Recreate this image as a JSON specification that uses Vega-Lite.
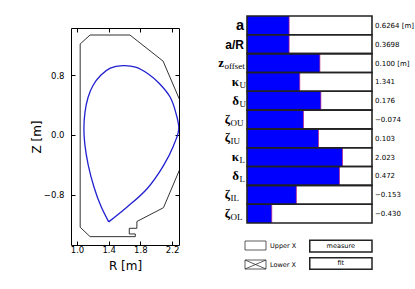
{
  "$schema": "https://vega.github.io/schema/vega-lite/v6.json",
  "autosize": {"type": "pad"},
  "padding": {"left": 29, "top": 10, "right": 2, "bottom": 2},
  "background": "#ffffff",
  "config": {"view": {"stroke": null}, "font": "DejaVu Sans"},
  "datasets": {
    "wall": [
      {"i": 0, "R": 1.040, "Z": 1.220}, {"i": 1, "R": 1.165, "Z": 1.340}, {"i": 2, "R": 1.668, "Z": 1.340},
      {"i": 3, "R": 2.087, "Z": 0.990}, {"i": 4, "R": 2.340, "Z": 0.362}, {"i": 5, "R": 2.340, "Z": -0.354},
      {"i": 6, "R": 2.092, "Z": -0.975}, {"i": 7, "R": 1.756, "Z": -1.160}, {"i": 8, "R": 1.756, "Z": -1.251},
      {"i": 9, "R": 1.660, "Z": -1.251}, {"i": 10, "R": 1.660, "Z": -1.327}, {"i": 11, "R": 1.736, "Z": -1.327},
      {"i": 12, "R": 1.736, "Z": -1.363}, {"i": 13, "R": 1.165, "Z": -1.363}, {"i": 14, "R": 1.040, "Z": -1.237},
      {"i": 15, "R": 1.040, "Z": 1.220}
    ],
    "plasma": [
      {"i": 0, "R": 1.400, "Z": -1.165}, {"i": 1, "R": 1.300, "Z": -0.950}, {"i": 2, "R": 1.215, "Z": -0.700},
      {"i": 3, "R": 1.143, "Z": -0.410}, {"i": 4, "R": 1.098, "Z": -0.120}, {"i": 5, "R": 1.087, "Z": 0.080},
      {"i": 6, "R": 1.100, "Z": 0.300}, {"i": 7, "R": 1.140, "Z": 0.505}, {"i": 8, "R": 1.200, "Z": 0.660},
      {"i": 9, "R": 1.300, "Z": 0.800}, {"i": 10, "R": 1.420, "Z": 0.895}, {"i": 11, "R": 1.578, "Z": 0.930},
      {"i": 12, "R": 1.740, "Z": 0.910}, {"i": 13, "R": 1.905, "Z": 0.815}, {"i": 14, "R": 2.040, "Z": 0.690},
      {"i": 15, "R": 2.177, "Z": 0.505}, {"i": 16, "R": 2.250, "Z": 0.290}, {"i": 17, "R": 2.285, "Z": 0.080},
      {"i": 18, "R": 2.219, "Z": -0.143}, {"i": 19, "R": 2.092, "Z": -0.410}, {"i": 20, "R": 1.882, "Z": -0.724},
      {"i": 21, "R": 1.629, "Z": -0.969}, {"i": 22, "R": 1.400, "Z": -1.165}
    ],
    "params": [
      {"p": "a", "m": "a", "s": "", "f": 0.337, "v": "0.6264 [m]"},
      {"p": "a/R", "m": "a/R", "s": "", "f": 0.337, "v": "0.3698"},
      {"p": "zoff", "m": "z", "s": "offset", "f": 0.583, "v": "0.100 [m]"},
      {"p": "kU", "m": "κ", "s": "U", "f": 0.422, "v": "1.341"},
      {"p": "dU", "m": "δ", "s": "U", "f": 0.591, "v": "0.176"},
      {"p": "zOU", "m": "ζ", "s": "OU", "f": 0.452, "v": "−0.074"},
      {"p": "zIU", "m": "ζ", "s": "IU", "f": 0.572, "v": "0.103"},
      {"p": "kL", "m": "κ", "s": "L", "f": 0.764, "v": "2.023"},
      {"p": "dL", "m": "δ", "s": "L", "f": 0.740, "v": "0.472"},
      {"p": "zIL", "m": "ζ", "s": "IL", "f": 0.395, "v": "−0.153"},
      {"p": "zOL", "m": "ζ", "s": "OL", "f": 0.198, "v": "−0.430"}
    ]
  },
  "spacing": 38,
  "hconcat": [
    {
      "spacing": 11,
      "bounds": "flush",
      "vconcat": [
        {
          "width": 108, "height": 1,
          "view": {"fill": "#ffffff", "stroke": null},
          "data": {"values": [{}]},
          "mark": {"type": "text", "text": ""},
          "encoding": {}
        },
        {
          "width": 108, "height": 217,
          "view": {"stroke": "#000000", "strokeWidth": 1},
          "resolve": {"scale": {"x": "independent", "y": "independent"}},
          "layer": [
            {
              "data": {"name": "wall"},
              "mark": {"type": "line", "color": "#333333", "strokeWidth": 1, "clip": true},
              "encoding": {
                "x": {"field": "R", "type": "quantitative", "scale": {"domain": [0.924, 2.288], "nice": false, "zero": false},
                  "axis": {"values": [1.0, 1.4, 1.8, 2.2], "format": ".1f", "title": "R [m]", "tickSize": -4, "labelPadding": 4, "domain": false, "grid": false,
                    "labelFontSize": 8.5, "titleFontSize": 12, "titleFontWeight": "normal", "labelColor": "#000", "tickColor": "#000", "titleColor": "#000", "titlePadding": 7}},
                "y": {"field": "Z", "type": "quantitative", "scale": {"domain": [-1.475, 1.434], "nice": false, "zero": false},
                  "axis": {"values": [-0.8, 0, 0.8], "format": ".1f", "title": "Z [m]", "tickSize": -4, "labelPadding": 11, "domain": false, "grid": false,
                    "labelFontSize": 8.5, "titleFontSize": 12, "titleFontWeight": "normal", "labelColor": "#000", "tickColor": "#000", "titleColor": "#000", "titlePadding": 0}},
                "order": {"field": "i", "type": "quantitative"}
              }
            },
            {
              "data": {"name": "plasma"},
              "mark": {"type": "line", "color": "#2020d0", "strokeWidth": 1.3, "interpolate": "catmull-rom", "clip": true},
              "encoding": {
                "x": {"field": "R", "type": "quantitative", "scale": {"domain": [0.924, 2.288], "nice": false, "zero": false},
                  "axis": {"orient": "top", "values": [1.0, 1.4, 1.8, 2.2], "labels": false, "title": null, "tickSize": -4, "domain": false, "grid": false, "tickColor": "#000"}},
                "y": {"field": "Z", "type": "quantitative", "scale": {"domain": [-1.475, 1.434], "nice": false, "zero": false},
                  "axis": {"orient": "right", "values": [-0.8, 0, 0.8], "labels": false, "title": null, "tickSize": -4, "domain": false, "grid": false, "tickColor": "#000"}},
                "order": {"field": "i", "type": "quantitative"}
              }
            }
          ]
        }
      ]
    },
    {
      "spacing": 17,
      "bounds": "flush",
      "vconcat": [
        {
          "width": 125, "height": 207,
          "data": {"name": "params"},
          "encoding": {
            "y": {"field": "p", "type": "nominal", "scale": {"domain": ["a", "a/R", "zoff", "kU", "dU", "zOU", "zIU", "kL", "dL", "zIL", "zOL"], "paddingInner": 0, "paddingOuter": 0}, "axis": null}
          },
          "layer": [
            {
              "mark": {"type": "rect", "fill": "#ffffff"},
              "encoding": {
                "x": {"datum": 0, "type": "quantitative", "scale": {"domain": [0, 1], "nice": false, "zero": false}, "axis": null},
                "x2": {"datum": 1}
              }
            },
            {
              "mark": {"type": "bar", "fill": "#0000ff"},
              "encoding": {"x": {"field": "f", "type": "quantitative"}}
            },
            {
              "mark": {"type": "tick", "color": "#c0207f", "thickness": 1, "size": 18},
              "encoding": {"x": {"field": "f", "type": "quantitative"}}
            },
            {
              "mark": {"type": "rect", "fill": null, "stroke": "#222222", "strokeWidth": 1.6},
              "encoding": {"x": {"datum": 0, "type": "quantitative"}, "x2": {"datum": 1}}
            },
            {
              "transform": [{"filter": "length(datum.s) == 0"}],
              "mark": {"type": "text", "align": "right", "baseline": "alphabetic", "dx": -3, "dy": 4.5, "font": "Liberation Sans", "fontWeight": "bold", "color": "#000"},
              "encoding": {
                "x": {"datum": 0, "type": "quantitative"},
                "text": {"field": "m"},
                "size": {"condition": {"test": "datum.p == 'a'", "value": 14.5}, "value": 12}
              }
            },
            {
              "transform": [{"filter": "length(datum.s) == 1"}],
              "layer": [
                {
                  "mark": {"type": "text", "align": "right", "baseline": "alphabetic", "dx": -8, "dy": 4, "font": "Liberation Serif", "fontWeight": "bold", "fontSize": 13, "color": "#000"},
                  "encoding": {"x": {"datum": 0, "type": "quantitative"}, "text": {"field": "m"}}
                },
                {
                  "mark": {"type": "text", "align": "left", "baseline": "alphabetic", "dx": -7.5, "dy": 6, "font": "Liberation Serif", "fontSize": 9, "color": "#000"},
                  "encoding": {"x": {"datum": 0, "type": "quantitative"}, "text": {"field": "s"}}
                }
              ]
            },
            {
              "transform": [{"filter": "length(datum.s) == 2"}],
              "layer": [
                {
                  "mark": {"type": "text", "align": "right", "baseline": "alphabetic", "dx": -17, "dy": 4, "font": "Liberation Serif", "fontWeight": "bold", "fontSize": 13, "color": "#000"},
                  "encoding": {"x": {"datum": 0, "type": "quantitative"}, "text": {"field": "m"}}
                },
                {
                  "mark": {"type": "text", "align": "left", "baseline": "alphabetic", "dx": -16.5, "dy": 6, "font": "Liberation Serif", "fontSize": 9, "color": "#000"},
                  "encoding": {"x": {"datum": 0, "type": "quantitative"}, "text": {"field": "s"}}
                }
              ]
            },
            {
              "transform": [{"filter": "length(datum.s) > 2"}],
              "layer": [
                {
                  "mark": {"type": "text", "align": "right", "baseline": "alphabetic", "dx": -23, "dy": 4, "font": "Liberation Serif", "fontWeight": "bold", "fontSize": 13, "color": "#000"},
                  "encoding": {"x": {"datum": 0, "type": "quantitative"}, "text": {"field": "m"}}
                },
                {
                  "mark": {"type": "text", "align": "left", "baseline": "alphabetic", "dx": -22.5, "dy": 6, "font": "Liberation Serif", "fontSize": 9, "color": "#000"},
                  "encoding": {"x": {"datum": 0, "type": "quantitative"}, "text": {"field": "s"}}
                }
              ]
            },
            {
              "mark": {"type": "text", "align": "left", "baseline": "middle", "dx": 3, "dy": 0.5, "font": "DejaVu Sans", "fontSize": 7, "color": "#000"},
              "encoding": {"x": {"datum": 1, "type": "quantitative"}, "text": {"field": "v"}}
            }
          ]
        },
        {
          "width": 125, "height": 30,
          "data": {"values": [{}]},
          "layer": [
            {
              "mark": {"type": "rect", "fill": "#ffffff", "stroke": "#333333", "strokeWidth": 0.8},
              "encoding": {
                "x": {"datum": -0.016, "type": "quantitative", "scale": {"domain": [0, 1], "nice": false, "zero": false}, "axis": null},
                "x2": {"datum": 0.152},
                "y": {"datum": 1, "type": "quantitative", "scale": {"domain": [0, 30], "nice": false, "zero": false, "reverse": true}, "axis": null},
                "y2": {"datum": 10}
              }
            },
            {
              "mark": {"type": "rect", "fill": "#ffffff", "stroke": "#333333", "strokeWidth": 0.8},
              "encoding": {
                "x": {"datum": -0.016, "type": "quantitative"}, "x2": {"datum": 0.152},
                "y": {"datum": 20, "type": "quantitative"}, "y2": {"datum": 29}
              }
            },
            {
              "mark": {"type": "rule", "color": "#333333", "strokeWidth": 0.8},
              "encoding": {
                "x": {"datum": -0.016, "type": "quantitative"}, "x2": {"datum": 0.152},
                "y": {"datum": 20, "type": "quantitative"}, "y2": {"datum": 29}
              }
            },
            {
              "mark": {"type": "rule", "color": "#333333", "strokeWidth": 0.8},
              "encoding": {
                "x": {"datum": -0.016, "type": "quantitative"}, "x2": {"datum": 0.152},
                "y": {"datum": 29, "type": "quantitative"}, "y2": {"datum": 20}
              }
            },
            {
              "mark": {"type": "rect", "fill": "#ffffff", "stroke": "#222222", "strokeWidth": 1.5},
              "encoding": {
                "x": {"datum": 0.502, "type": "quantitative"}, "x2": {"datum": 1.0},
                "y": {"datum": 0.3, "type": "quantitative"}, "y2": {"datum": 12}
              }
            },
            {
              "mark": {"type": "rect", "fill": "#ffffff", "stroke": "#222222", "strokeWidth": 1.5},
              "encoding": {
                "x": {"datum": 0.502, "type": "quantitative"}, "x2": {"datum": 1.0},
                "y": {"datum": 17.7, "type": "quantitative"}, "y2": {"datum": 29.3}
              }
            },
            {
              "data": {"values": [{"t": "Upper X", "k": 5.5}, {"t": "Lower X", "k": 24.5}]},
              "mark": {"type": "text", "align": "left", "baseline": "middle", "fontSize": 6.5, "color": "#000"},
              "encoding": {"x": {"datum": 0.184, "type": "quantitative"}, "y": {"field": "k", "type": "quantitative"}, "text": {"field": "t"}}
            },
            {
              "data": {"values": [{"t": "measure", "k": 6.2}, {"t": "fit", "k": 22.8}]},
              "mark": {"type": "text", "align": "center", "baseline": "middle", "fontSize": 6.5, "color": "#000"},
              "encoding": {"x": {"datum": 0.75, "type": "quantitative"}, "y": {"field": "k", "type": "quantitative"}, "text": {"field": "t"}}
            }
          ]
        }
      ]
    }
  ]
}
